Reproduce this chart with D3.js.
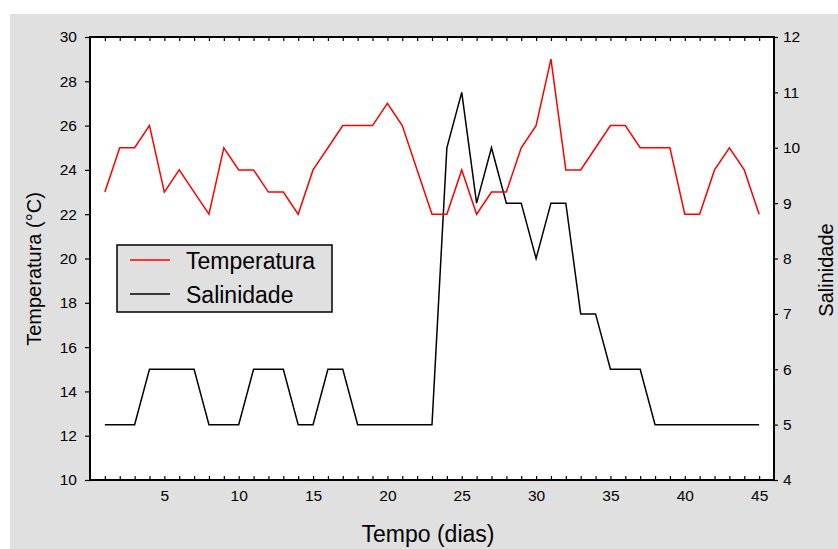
<!DOCTYPE html>
<html>
<head>
<meta charset="utf-8">
<script src="https://cdn.jsdelivr.net/npm/d3@7"></script>
<style>
  body { margin: 0; background: #fff; }
  svg { display: block; font-family: "Liberation Sans", Arial, sans-serif; }
  .axis text { font-size: 15.5px; fill: #000; }
  .axis line { stroke: #000; stroke-width: 1.2px; }
  .axis path { display: none; }
</style>
</head>
<body>
<svg width="838" height="549"></svg>
<script>
var days = d3.range(1, 46);
var temperatura = [23, 25, 25, 26, 23, 24, 23, 22, 25, 24, 24, 23, 23, 22, 24,
                   25, 26, 26, 26, 27, 26, 24, 22, 22, 24, 22, 23, 23, 25, 26,
                   29, 24, 24, 25, 26, 26, 25, 25, 25, 22, 22, 24, 25, 24, 22];
var salinidade = [5, 5, 5, 6, 6, 6, 6, 5, 5, 5, 6, 6, 6, 5, 5,
                  6, 6, 5, 5, 5, 5, 5, 5, 10, 11, 9, 10, 9, 9, 8,
                  9, 9, 7, 7, 6, 6, 6, 5, 5, 5, 5, 5, 5, 5, 5];
var xTicks = [5, 10, 15, 20, 25, 30, 35, 40, 45];
var tempTicks = d3.range(10, 31, 2);
var salTicks = d3.range(4, 13, 1);

var svg = d3.select("svg"),
    margin = {top: 37, right: 64, bottom: 69, left: 90},
    width = +svg.attr("width") - margin.left - margin.right,
    height = +svg.attr("height") - margin.top - margin.bottom;

var x = d3.scaleLinear().domain([0, 46]).range([0, width]),
    yT = d3.scaleLinear().domain([10, 30]).range([height, 0]),
    yS = d3.scaleLinear().domain([4, 12]).range([height, 0]);

// gray panel + white plot area
svg.append("rect")
    .attr("x", 10).attr("y", 14)
    .attr("width", 828).attr("height", 535)
    .attr("fill", "#e0e0e0");

var g = svg.append("g")
    .attr("transform", "translate(" + margin.left + "," + margin.top + ")");

g.append("rect")
    .attr("width", width).attr("height", height)
    .attr("fill", "#fff");

// axes
g.append("g")
    .attr("class", "axis")
    .attr("transform", "translate(0," + height + ")")
    .call(d3.axisBottom(x).tickValues(days).tickSize(-4).tickPadding(10)
      .tickFormat(function(d) { return xTicks.indexOf(d) >= 0 ? d : ""; }));

g.append("g")
    .attr("class", "axis")
    .call(d3.axisTop(x).tickValues(days).tickSize(-4).tickFormat(""));

g.append("g")
    .attr("class", "axis")
    .call(d3.axisLeft(yT).tickValues(tempTicks).tickSize(5).tickPadding(8));

g.append("g")
    .attr("class", "axis")
    .attr("transform", "translate(" + width + ",0)")
    .call(d3.axisRight(yS).tickValues(salTicks).tickSize(4).tickPadding(5));

// lines
var lineT = d3.line()
    .x(function(d, i) { return x(days[i]); })
    .y(function(d) { return yT(d); });

var lineS = d3.line()
    .x(function(d, i) { return x(days[i]); })
    .y(function(d) { return yS(d); });

g.append("path")
    .datum(salinidade)
    .attr("fill", "none")
    .attr("stroke", "#000")
    .attr("stroke-width", 1.5)
    .attr("d", lineS);

g.append("path")
    .datum(temperatura)
    .attr("fill", "none")
    .attr("stroke", "#ff0000")
    .attr("stroke-width", 1.5)
    .attr("d", lineT);

// frame
g.append("rect")
    .attr("width", width).attr("height", height)
    .attr("fill", "none")
    .attr("stroke", "#000")
    .attr("stroke-width", 2);

// legend
var legend = svg.append("g").attr("transform", "translate(117,245)");
legend.append("rect")
    .attr("width", 215).attr("height", 67)
    .attr("fill", "#e0e0e0")
    .attr("stroke", "#000")
    .attr("stroke-width", 1.5);

var legendItems = [
  {name: "Temperatura", color: "#ff0000"},
  {name: "Salinidade", color: "#000"}
];
legend.selectAll(".item")
    .data(legendItems)
    .enter().append("g")
    .attr("class", "item")
    .attr("transform", function(d, i) { return "translate(0," + (15 + i * 34) + ")"; })
    .each(function(d) {
      var it = d3.select(this);
      it.append("line")
        .attr("x1", 13).attr("x2", 53)
        .attr("stroke", d.color).attr("stroke-width", 1.5);
      it.append("text")
        .attr("x", 69).attr("y", 9)
        .style("font-size", "23px")
        .text(d.name);
    });

// axis titles
svg.append("text")
    .attr("transform", "translate(41,269)rotate(-90)")
    .attr("text-anchor", "middle")
    .style("font-size", "20px")
    .text("Temperatura (°C)");

svg.append("text")
    .attr("transform", "translate(833,270)rotate(-90)")
    .attr("text-anchor", "middle")
    .style("font-size", "20px")
    .text("Salinidade");

svg.append("text")
    .attr("x", 428).attr("y", 542)
    .attr("text-anchor", "middle")
    .style("font-size", "23px")
    .text("Tempo (dias)");
</script>
</body>
</html>
